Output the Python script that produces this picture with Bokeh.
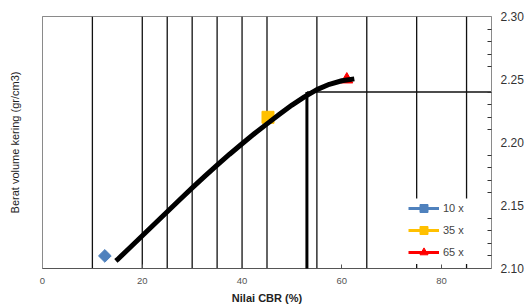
import math
from bokeh.plotting import figure
from bokeh.models import (FixedTicker, LinearAxis, Range1d, Arrow, Legend, LegendItem,
                          PrintfTickFormatter)
from bokeh.embed import file_html
from bokeh.resources import INLINE

# ---- data ----
series_labels = ["10 x", "35 x", "65 x"]
series_cbr = [12.5, 45.2, 61.0]
series_density = [2.11, 2.22, 2.25]
series_colors = ["#4F81BD", "#FFC000", "#FF0000"]
series_markers = ["square", "square", "triangle"]
series_angles = [math.pi / 4, 0, 0]
series_sizes = [9, 12, 12]

curve_cbr = [14.7, 15, 17.5, 20, 22.5, 25, 27.5, 30, 32.5, 35, 37.5, 40, 42.5, 45,
             47.5, 50, 52.5, 55, 57.5, 60, 62.5]
curve_density = [2.106, 2.107, 2.1165, 2.126, 2.1355, 2.145, 2.1546, 2.164, 2.1731,
                 2.182, 2.1907, 2.199, 2.2071, 2.2148, 2.2224, 2.2297, 2.2362,
                 2.2420, 2.2462, 2.2490, 2.2505]

vline_full = [10, 20, 25, 30, 35, 40, 45, 55, 65]
vline_partial = [75, 85]
vline_partial_top = 2.30
vline_partial_bottom = 2.1556

design_cbr = 53
design_density = 2.24
design_line_bottom = 2.089

x_ticks = [0, 20, 40, 60, 80]
y_ticks = [2.10, 2.15, 2.20, 2.25, 2.30]
y_minor = [2.11, 2.12, 2.13, 2.14, 2.16, 2.17, 2.18, 2.19, 2.21, 2.22, 2.23,
           2.24, 2.26, 2.27, 2.28, 2.29]

p = figure(width=526, height=307, x_range=Range1d(0, 90), y_range=Range1d(2.10, 2.30),
           output_backend="svg", toolbar_location=None, y_axis_location="right",
           min_border_left=42, min_border_top=16, min_border_right=34, min_border_bottom=39)
p.xgrid.visible = False
p.ygrid.visible = False
p.outline_line_color = "#8a8a8a"
p.background_fill_color = "white"

FONT = "Liberation Sans"

# x axis
xa = p.xaxis[0]
xa.ticker = FixedTicker(ticks=x_ticks)
xa.major_tick_in = 4
xa.major_tick_out = 0
xa.minor_tick_line_color = None
xa.axis_line_color = "#555555"
xa.major_tick_line_color = "#555555"
xa.major_label_text_font = FONT
xa.major_label_text_font_size = "9.5px"
xa.major_label_text_color = "#555555"
xa.major_label_standoff = 9
xa.axis_label = "Nilai CBR (%)"
xa.axis_label_text_font = FONT
xa.axis_label_text_font_size = "11px"
xa.axis_label_text_font_style = "bold"
xa.axis_label_text_color = "#222222"
xa.axis_label_standoff = 5

# right y axis
ya = p.yaxis[0]
ya.ticker = FixedTicker(ticks=y_ticks, minor_ticks=y_minor)
ya.formatter = PrintfTickFormatter(format="%.2f")
ya.major_tick_in = 0
ya.major_tick_out = 0
ya.minor_tick_in = 4
ya.minor_tick_out = 0
ya.axis_line_color = "#8a8a8a"
ya.minor_tick_line_color = "#333333"
ya.major_label_text_font = FONT
ya.major_label_text_font_size = "12px"
ya.major_label_text_color = "#333333"
ya.major_label_standoff = 9

# left axis for title
la = LinearAxis(ticker=FixedTicker(ticks=[]), axis_label="Berat volume kering (gr/cm3)",
                axis_line_color="#8a8a8a", axis_label_text_font=FONT,
                axis_label_text_font_size="11px", axis_label_text_font_style="normal",
                axis_label_text_color="#222222", axis_label_standoff=22,
                major_tick_line_color=None, minor_tick_line_color=None)
p.add_layout(la, "left")

# vertical lines
p.segment(x0=vline_full, y0=[2.10] * len(vline_full), x1=vline_full,
          y1=[2.30] * len(vline_full), line_color="#111111", line_width=1.3)
p.segment(x0=vline_partial, y0=[vline_partial_bottom] * 2, x1=vline_partial,
          y1=[vline_partial_top] * 2, line_color="#111111", line_width=1.3)
p.segment(x0=vline_partial, y0=[2.10] * 2, x1=vline_partial,
          y1=[2.1035] * 2, line_color="#111111", line_width=1.3)

# design lines
p.segment(x0=[design_cbr], y0=[design_density], x1=[90], y1=[design_density],
          line_color="#111111", line_width=1.5)
p.add_layout(Arrow(end=None, x_start=design_cbr, y_start=design_density,
                   x_end=design_cbr, y_end=design_line_bottom,
                   line_color="black", line_width=3))

# series
items = []
for lab, xv, yv, c, m, a, s in zip(series_labels, series_cbr, series_density,
                                   series_colors, series_markers, series_angles,
                                   series_sizes):
    lr = p.line([xv], [yv], line_color=c, line_width=3)
    sr = p.scatter([xv], [yv], marker=m, angle=a, size=s, fill_color=c, line_color=c)
    items.append(LegendItem(label=lab, renderers=[lr, sr]))

# fitted curve
p.line(curve_cbr, curve_density, line_color="black", line_width=5,
       line_join="round", line_cap="butt")

legend = Legend(items=items, location=(360, 0), glyph_width=31, glyph_height=20,
                label_height=20, spacing=2, padding=6, margin=0,
                background_fill_alpha=0, border_line_alpha=0,
                label_text_font=FONT, label_text_font_size="11px",
                label_text_color="#444444", label_standoff=4)
p.add_layout(legend)

open("out.html", "w").write(file_html(p, INLINE))
